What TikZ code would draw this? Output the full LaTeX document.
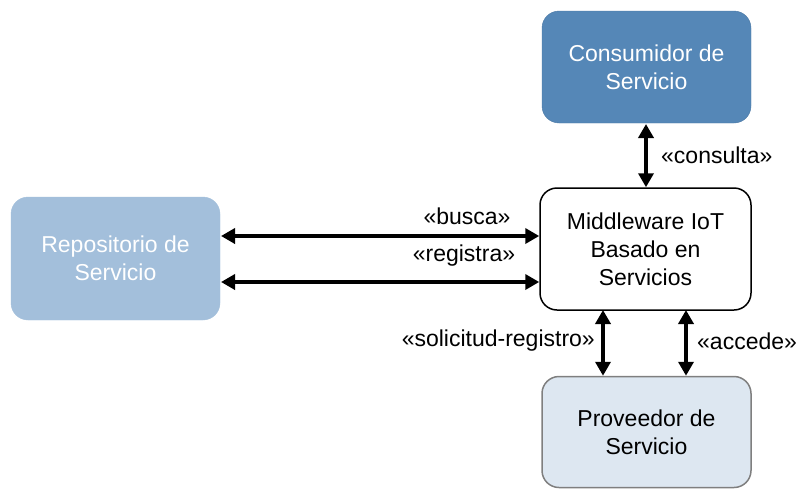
\documentclass[tikz,border=0pt]{standalone}
\usepackage{fontspec}
\setmainfont{Liberation Sans}
\usetikzlibrary{arrows.meta}
\definecolor{consC}{HTML}{5587B7}
\definecolor{repoC}{HTML}{A3BFDB}
\definecolor{provC}{HTML}{DDE7F1}
\definecolor{provB}{HTML}{7F7F7F}
\tikzset{
  box/.style={rounded corners=17pt, align=center, inner sep=0pt,
    font=\fontsize{23}{28}\selectfont},
  lbl/.style={font=\fontsize{23}{28}\selectfont, inner sep=0pt},
  conn/.style={line width=3.6pt, {Triangle[length=14pt,width=15pt]}-{Triangle[length=14pt,width=15pt]}},
}
\begin{document}
\begin{tikzpicture}[x=1pt,y=-1pt]
\useasboundingbox (0,0) rectangle (798,490);
\node[box, fill=consC, draw=consC!90!black, text=white, minimum width=209pt, minimum height=112pt] (cons) at (646.5,67) {Consumidor de\\Servicio};
\node[box, fill=repoC, draw=repoC, text=white, minimum width=209pt, minimum height=123pt] (repo) at (115.5,258.5) {Repositorio de\\Servicio};
\node[box, fill=white, draw=black, line width=1.5pt, minimum width=211pt, minimum height=122pt] (mid) at (645.5,249) {Middleware IoT\\Basado en\\Servicios};
\node[box, fill=provC, draw=provB, line width=1.5pt, minimum width=209pt, minimum height=111pt] (prov) at (646.5,432) {Proveedor de\\Servicio};

\coordinate (c1) at (646,124);
\draw[conn] (c1) -- (c1 |- mid.north);
\node[lbl, anchor=west] (lc) at (661,155) {«consulta»};

\coordinate (b1) at (221,236);
\draw[conn] (b1) -- (b1 -| mid.west);
\node[lbl] (lb) at (467,216) {«busca»};

\coordinate (r1) at (221,282);
\draw[conn] (r1) -- (r1 -| mid.west);
\node[lbl] (lr) at (464,256) {«registra»};

\coordinate (s1) at (603,310);
\draw[conn] (s1) -- (s1 |- prov.north);
\node[lbl, anchor=east] (ls) at (595,341) {«solicitud-registro»};

\coordinate (a1) at (686,310);
\draw[conn] (a1) -- (a1 |- prov.north);
\node[lbl, anchor=west] (la) at (697,341) {«accede»};
\end{tikzpicture}
\end{document}
